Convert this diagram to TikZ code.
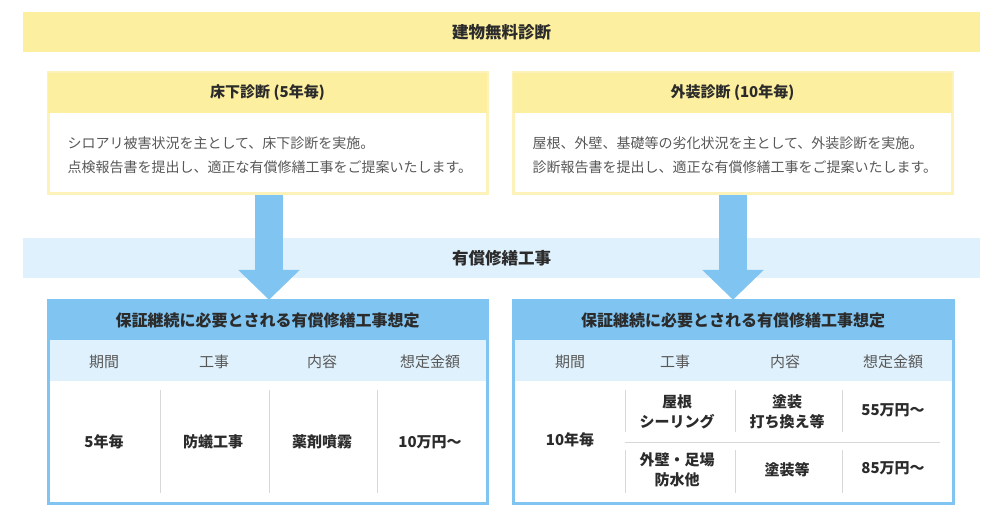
\documentclass[tikz,border=0pt]{standalone}
\usepackage{fontspec}
\setmainfont{Noto Sans CJK JP}
\usetikzlibrary{positioning,arrows.meta}
\definecolor{yel}{HTML}{FCEF9F}
\definecolor{yelrim}{HTML}{FCF2BA}
\definecolor{pale}{HTML}{DFF1FC}
\definecolor{sky}{HTML}{80C4F1}
\definecolor{ink}{HTML}{2B2B2B}
\definecolor{grey}{HTML}{585858}
\definecolor{rule}{HTML}{D8D8D8}
\tikzset{
  band/.style={fill=#1,minimum width=957pt,minimum height=40pt,inner sep=0pt,
    font=\fontsize{16.5}{18}\selectfont\bfseries,text=ink},
  boxhead/.style={fill=#1,minimum width=439pt,minimum height=40pt,inner sep=0pt,
    font=\fontsize{15}{17}\selectfont\bfseries,text=ink},
  colhead/.style={font=\fontsize{15}{17}\selectfont,text=grey},
  cell/.style={font=\fontsize{15}{20}\selectfont\bfseries,text=ink,align=center},
  flow/.style={sky,line width=28pt,-{Triangle[width=60pt,length=30pt]}}
}
\begin{document}
\begin{tikzpicture}[x=1pt,y=-1pt]
\useasboundingbox[fill=white](0,0)rectangle(1000,524);
\node[band=yel](free)at(501.5,32){建物無料診断};
\node[band=pale](paid)at(501.5,258){有償修繕工事};
\begin{scope}
\draw[yelrim,line width=3pt,fill=white](48,73)rectangle(487,193);
\node[boxhead=yel](lhead)at(267.5,93){床下診断 (5年毎)};
\node[anchor=west,align=left,text=grey,font=\fontsize{14}{24}\selectfont](ltext)at(64,155)
  {シロアリ被害状況を主として、床下診断を実施。\\点検報告書を提出し、適正な有償修繕工事をご提案いたします。};
\coordinate(lfoot)at(269,195);
\end{scope}
\begin{scope}[xshift=465pt]
\draw[yelrim,line width=3pt,fill=white](48,73)rectangle(487,193);
\node[boxhead=yel](rhead)at(267.5,93){外装診断 (10年毎)};
\node[anchor=west,align=left,text=grey,font=\fontsize{14}{24}\selectfont](rtext)at(64,155)
  {屋根、外壁、基礎等の劣化状況を主として、外装診断を実施。\\診断報告書を提出し、適正な有償修繕工事をご提案いたします。};
\coordinate(rfoot)at(268,195);
\end{scope}
% left table
\begin{scope}
\fill[pale](48,340)rectangle(487,381);
\node[boxhead=sky](ltab)at(267.5,320){\fontsize{16}{18}\selectfont 保証継続に必要とされる有償修繕工事想定};
\draw[sky,line width=3pt](48,300)rectangle(487,503);
\node[colhead](la)at(104,362){期間};
\node[colhead](lb)at(214,362){工事};
\node[colhead](lc)at(322,362){内容};
\node[colhead](ld)at(430,362){想定金額};
\draw[rule](160,390)--(160,493)(269,390)--(269,493)(377,390)--(377,493);
\node[cell](l1)at(104,442){5年毎};
\node[cell](l2)at(213,442){防蟻工事};
\node[cell](l3)at(322,442){薬剤噴霧};
\node[cell](l4)at(430,442){10万円〜};
\end{scope}
% right table
\begin{scope}[xshift=465pt]
\fill[pale](48,340)rectangle(488,381);
\node[boxhead=sky,minimum width=440pt](rtab)at(268,320){\fontsize{16}{18}\selectfont 保証継続に必要とされる有償修繕工事想定};
\draw[sky,line width=3pt](48,300)rectangle(488,503);
\node[colhead](ra)at(105,362){期間};
\node[colhead](rb)at(210,362){工事};
\node[colhead](rc)at(320,362){内容};
\node[colhead](rd)at(428,362){想定金額};
\draw[rule](160,390)--(160,432)(270,390)--(270,432)(377,390)--(377,432);
\draw[rule](160,450)--(160,493)(270,450)--(270,493)(377,450)--(377,493);
\draw[rule](160,442)--(475,442);
\node[cell](r1)at(105,440){10年毎};
\node[cell](r2)at(212,412){屋根\\シーリング};
\node[cell](r3)at(322,412){塗装\\打ち換え等};
\node[cell](r4)at(428,410){55万円〜};
\node[cell](r5)at(212,470){外壁・足場\\防水他};
\node[cell](r6)at(322,470){塗装等};
\node[cell](r7)at(428,468){85万円〜};
\end{scope}
\draw[flow](lfoot)--(ltab.north-|lfoot);
\draw[flow](rfoot)--(rtab.north-|rfoot);
\end{tikzpicture}
\end{document}
